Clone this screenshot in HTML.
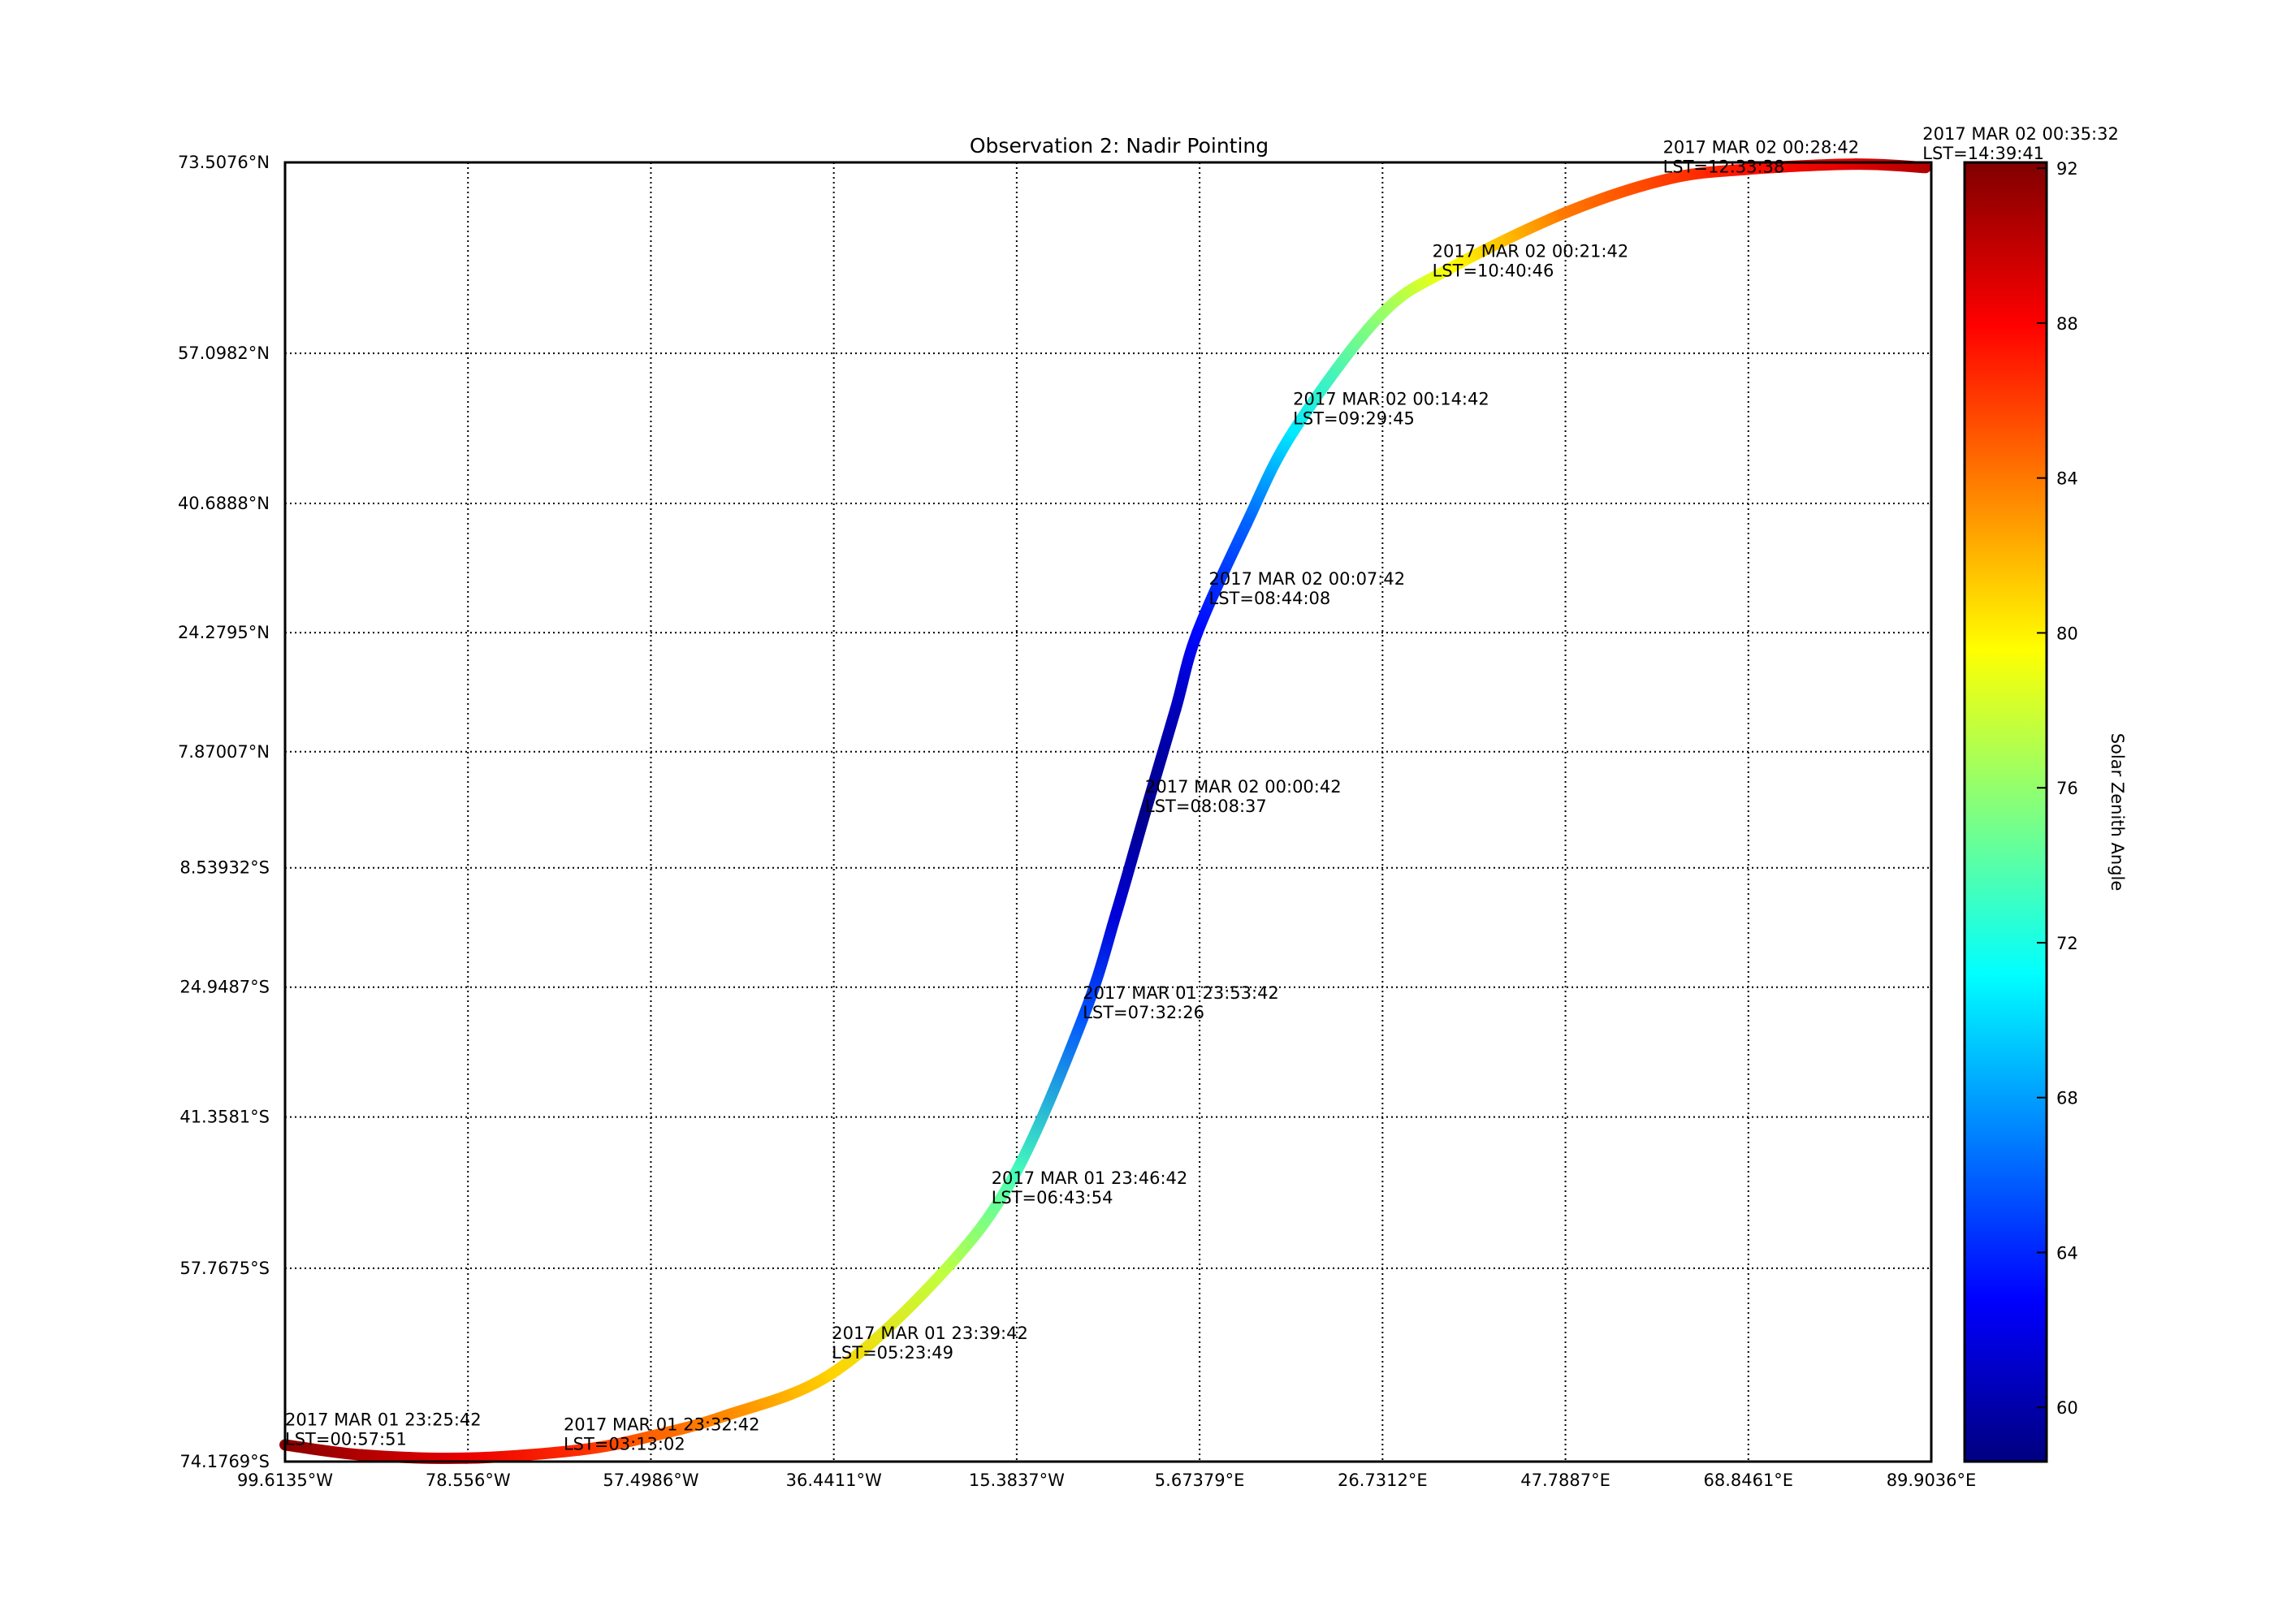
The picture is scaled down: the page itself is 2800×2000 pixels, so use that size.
<!DOCTYPE html>
<html>
<head>
<meta charset="utf-8">
<style>
  html, body { margin: 0; padding: 0; background: #fff; }
  svg { display: block; font-family: "DejaVu Sans", "Liberation Sans", sans-serif; }
</style>
</head>
<body>
<svg id="chart" width="2800" height="2000" viewBox="0 0 2800 2000" xmlns="http://www.w3.org/2000/svg">
  <rect x="0" y="0" width="2800" height="2000" fill="#fff"/>
  <text x="1378" y="188" font-size="25" text-anchor="middle">Observation 2: Nadir Pointing</text>
  <g id="grid"></g>
  <g id="track"></g>
  <g id="labels"></g>
  <rect x="351" y="200" width="2027" height="1600" fill="none" stroke="#000" stroke-width="3"/>
  <g id="xticks"></g>
  <g id="yticks"></g>
  <defs id="defs"></defs>
  <g id="colorbar"></g>
  <text x="2600" y="1000" font-size="21" text-anchor="middle" transform="rotate(90 2600 1000)">Solar Zenith Angle</text>
</svg>
<script>
// ---- data ----
const lonTicks = [-99.6135, -78.556, -57.4986, -36.4411, -15.3837, 5.67379, 26.7312, 47.7887, 68.8461, 89.9036];
const lonTickLabels = ["99.6135°W","78.556°W","57.4986°W","36.4411°W","15.3837°W","5.67379°E","26.7312°E","47.7887°E","68.8461°E","89.9036°E"];
const latTicks = [73.5076, 57.0982, 40.6888, 24.2795, 7.87007, -8.53932, -24.9487, -41.3581, -57.7675, -74.1769];
const latTickLabels = ["73.5076°N","57.0982°N","40.6888°N","24.2795°N","7.87007°N","8.53932°S","24.9487°S","41.3581°S","57.7675°S","74.1769°S"];
const trackLon = [-99.61, -90.76, -78.74, -65.72, -57.70, -49.02, -36.67, -23.98, -15.63, -7.63, -3.94, -0.60, 2.90, 5.41, 11.09, 16.43, 26.45, 34.46, 47.66, 59.51, 68.69, 81.21, 89.23];
const trackLat = [-72.95, -73.69, -73.93, -73.33, -72.34, -70.75, -67.32, -58.26, -47.99, -28.60, -14.94, -0.75, 13.80, 24.28, 38.29, 48.9, 60.73, 64.99, 69.62, 72.26, 73.00, 73.38, 73.13];
const trackSza = [91.8, 90.5, 88.6, 86.5, 84.8, 83.5, 81.0, 77.5, 73.5, 65.5, 61.5, 59.0, 60.5, 63.0, 66.0, 70.5, 76.0, 79.5, 84.0, 86.0, 87.5, 89.0, 90.5];
const annLon = [-99.61, -67.55, -36.67, -18.30, -7.78, -0.60, 6.74, 16.43, 32.46, 59.01, 88.9];
const annLat = [-73.33, -73.69, -66.47, -51.62, -29.69, -1.36, 27.42, 49.20, 63.86, 72.38, 73.38];
const annTime = ["2017 MAR 01 23:25:42","2017 MAR 01 23:32:42","2017 MAR 01 23:39:42","2017 MAR 01 23:46:42","2017 MAR 01 23:53:42","2017 MAR 02 00:00:42","2017 MAR 02 00:07:42","2017 MAR 02 00:14:42","2017 MAR 02 00:21:42","2017 MAR 02 00:28:42","2017 MAR 02 00:35:32"];
const annLst = ["LST=00:57:51","LST=03:13:02","LST=05:23:49","LST=06:43:54","LST=07:32:26","LST=08:08:37","LST=08:44:08","LST=09:29:45","LST=10:40:46","LST=12:33:38","LST=14:39:41"];
const cbTicks = [60, 64, 68, 72, 76, 80, 84, 88, 92];
const cbMin = 58.6, cbMax = 92.15;

// ---- scales ----
const NS = "http://www.w3.org/2000/svg";
const PL = 351, PR = 2378, PT = 200, PB = 1800;
const lonMin = -99.6135, lonMax = 89.9036, latMax = 73.5076, latMin = -74.1769;
function miller(lat) { const r = lat * Math.PI / 180; return 1.25 * Math.log(Math.tan(Math.PI / 4 + 0.4 * r)); }
function xS(lon) { return PL + (lon - lonMin) / (lonMax - lonMin) * (PR - PL); }
function yS(lat) { const mT = miller(latMax), mB = miller(latMin); return PT + (mT - miller(lat)) / (mT - mB) * (PB - PT); }
const CBX = 2419, CBW = 101;
function cbY(v) { return PB - (v - cbMin) / (cbMax - cbMin) * (PB - PT); }
function clamp(v) { return Math.max(0, Math.min(1, v)); }
function jet(t) {
  const r = clamp(1.5 - Math.abs(4 * t - 3)), g = clamp(1.5 - Math.abs(4 * t - 2)), b = clamp(1.5 - Math.abs(4 * t - 1));
  return "rgb(" + Math.round(r * 255) + "," + Math.round(g * 255) + "," + Math.round(b * 255) + ")";
}
function sCol(v) { return jet((v - cbMin) / (cbMax - cbMin)); }
function mk(tag, attrs, parent) { const e = document.createElementNS(NS, tag); for (const k in attrs) e.setAttribute(k, attrs[k]); parent.appendChild(e); return e; }

// ---- grid ----
const grid = document.getElementById("grid");
lonTicks.forEach((lon, i) => {
  if (i === 0 || i === lonTicks.length - 1) return;
  const l = mk("line", { x1: xS(lon), x2: xS(lon), y1: PT, y2: PB, stroke: "#000", "stroke-width": 2, "stroke-dasharray": "2,4" }, grid);
  
  
});
latTicks.forEach((lat, i) => {
  if (i === 0 || i === latTicks.length - 1) return;
  const l = mk("line", { x1: PL, x2: PR, y1: yS(lat), y2: yS(lat), stroke: "#000", "stroke-width": 2, "stroke-dasharray": "2,4" }, grid);
  
  
});

// ---- tick labels ----
const xt = document.getElementById("xticks");
lonTicks.forEach((lon, i) => {
  const t = mk("text", { x: xS(lon), y: 1830, "font-size": 21, "text-anchor": "middle" }, xt);
  t.textContent = lonTickLabels[i];
  
  
});
const yt = document.getElementById("yticks");
latTicks.forEach((lat, i) => {
  const t = mk("text", { x: 332, y: yS(lat) + 7, "font-size": 21, "text-anchor": "end" }, yt);
  t.textContent = latTickLabels[i];
  
  
});

// ---- track (smooth Catmull-Rom through data points) ----
const defs = document.getElementById("defs");
const track = document.getElementById("track");
const P = trackLon.map((lon, i) => [xS(lon), yS(trackLat[i])]);
const n = P.length;
for (let i = 0; i < n - 1; i++) {
  const p0 = P[Math.max(0, i - 1)], p1 = P[i], p2 = P[i + 1], p3 = P[Math.min(n - 1, i + 2)];
  const c1 = [p1[0] + (p2[0] - p0[0]) / 6, p1[1] + (p2[1] - p0[1]) / 6];
  const c2 = [p2[0] - (p3[0] - p1[0]) / 6, p2[1] - (p3[1] - p1[1]) / 6];
  const gid = "seg" + i;
  const g = mk("linearGradient", { id: gid, gradientUnits: "userSpaceOnUse", x1: p1[0], y1: p1[1], x2: p2[0], y2: p2[1] }, defs);
  mk("stop", { offset: "0", "stop-color": sCol(trackSza[i]) }, g);
  mk("stop", { offset: "1", "stop-color": sCol(trackSza[i + 1]) }, g);
  const d = "M" + p1[0] + "," + p1[1] + " C" + c1[0] + "," + c1[1] + " " + c2[0] + "," + c2[1] + " " + p2[0] + "," + p2[1];
  const l = mk("path", { d: d, fill: "none", stroke: "url(#" + gid + ")", "stroke-width": 14, "stroke-linecap": "round" }, track);
  
  
}

// ---- annotations ----
const labels = document.getElementById("labels");
annLon.forEach((lon, i) => {
  const x = xS(lon), y = yS(annLat[i]);
  const t1 = mk("text", { x: x, y: y - 30, "font-size": 21 }, labels);
  t1.textContent = annTime[i];
  
  
  const t2 = mk("text", { x: x, y: y - 6, "font-size": 21 }, labels);
  t2.textContent = annLst[i];
  
  
});

// ---- colorbar ----
const cb = document.getElementById("colorbar");
const cg = mk("linearGradient", { id: "jetgrad", x1: 0, y1: 1, x2: 0, y2: 0 }, defs);
for (let k = 0; k <= 40; k++) mk("stop", { offset: k / 40, "stop-color": jet(k / 40) }, cg);
const cr = mk("rect", { x: CBX, y: PT, width: CBW, height: PB - PT, fill: "url(#jetgrad)", stroke: "#000", "stroke-width": 3 }, cb);


cbTicks.forEach(v => {
  const y = cbY(v);
  const l = mk("line", { x1: CBX + CBW - 12, x2: CBX + CBW, y1: y, y2: y, stroke: "#000", "stroke-width": 2 }, cb);
  
  
  const t = mk("text", { x: CBX + CBW + 12, y: y + 8, "font-size": 21 }, cb);
  t.textContent = v;
  
  
});
</script>
</body>
</html>
